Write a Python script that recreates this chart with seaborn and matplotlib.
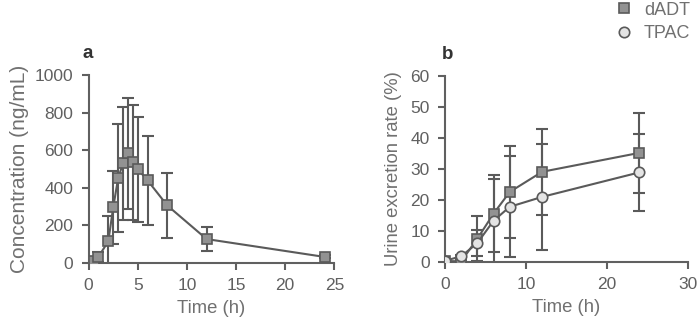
import matplotlib
matplotlib.use("Agg")
import matplotlib.pyplot as plt
import seaborn as sns
import pandas as pd
from matplotlib.lines import Line2D

# Panel a: plasma concentration of dADT
time_a = [0.5, 1, 2, 2.5, 3, 3.5, 4, 4.5, 5, 6, 8, 12, 24]
conc_a = [12, 33, 115, 296, 451, 531, 584, 535, 499, 439, 306, 127, 32]
sd_a = [10, 26, 133, 195, 286, 300, 296, 305, 280, 238, 172, 62, 8]

# Panel b: urine excretion rate
time_b = [0, 2, 4, 6, 8, 12, 24]
dadt_b = [0.3, 0.2, 7.5, 15.6, 22.6, 29.1, 35.2]
dadt_sd = [0.2, 0.3, 7.3, 12.4, 14.8, 13.8, 12.8]
tpac_b = [0.4, 1.8, 6.1, 13.3, 17.8, 21.0, 28.9]
tpac_sd = [0.2, 0.5, 4.1, 13.6, 16.3, 17.0, 12.4]

sns.set_style("ticks")
plt.rcParams['font.family'] = ['Liberation Sans', 'DejaVu Sans']
TXT = "#707070"
LINE = "#5a5a5a"
SQ = "#929292"
CI = "#e4e4e4"
plt.rcParams.update({
    'text.color': TXT, 'axes.labelcolor': TXT, 'xtick.color': "#606060",
    'ytick.color': "#606060", 'axes.edgecolor': "#606060",
})

fig = plt.figure(figsize=(6.98, 3.25), dpi=100)
ax1 = fig.add_axes([0.127, 0.191, 0.352, 0.578])
ax2 = fig.add_axes([0.6375, 0.194, 0.348, 0.572])

fs = 12.5
lfs = 13.3
cap = 4
lw = 1.5

# Panel a
df_a = pd.DataFrame({'t': time_a, 'c': conc_a})
ax1.errorbar(time_a, conc_a, yerr=sd_a, fmt='none', ecolor=LINE,
             elinewidth=lw, capsize=cap, capthick=lw, zorder=2)
sns.lineplot(data=df_a, x='t', y='c', ax=ax1, color=LINE, lw=lw,
             marker='s', markersize=6.5, markerfacecolor=SQ,
             markeredgecolor=LINE, markeredgewidth=1.2, zorder=3)
ax1.set_xlim(0, 25)
ax1.set_ylim(0, 1000)
ax1.set_xticks([0, 5, 10, 15, 20, 25])
ax1.set_yticks([0, 200, 400, 600, 800, 1000])
ax1.set_xlabel("Time (h)", fontsize=lfs, labelpad=5)
ax1.set_ylabel("Concentration (ng/mL)", fontsize=15, labelpad=4)
ax1.text(-0.025, 1.07, "a", transform=ax1.transAxes, fontsize=13.5,
         fontweight='bold', color="#333333", ha='left', va='bottom')

# Panel b
df_b = pd.DataFrame({'t': time_b * 2,
                     'v': dadt_b + tpac_b,
                     's': ['dADT'] * len(time_b) + ['TPAC'] * len(time_b)})
ax2.errorbar(time_b, dadt_b, yerr=dadt_sd, fmt='none', ecolor=LINE,
             elinewidth=lw, capsize=cap, capthick=lw, zorder=2)
ax2.errorbar(time_b, tpac_b, yerr=tpac_sd, fmt='none', ecolor=LINE,
             elinewidth=lw, capsize=cap, capthick=lw, zorder=2)
sns.lineplot(data=df_b[df_b.s == 'dADT'], x='t', y='v', ax=ax2, color=LINE,
             lw=lw, marker='s', markersize=6.8, markerfacecolor=SQ,
             markeredgecolor=LINE, markeredgewidth=1.2, zorder=3)
sns.lineplot(data=df_b[df_b.s == 'TPAC'], x='t', y='v', ax=ax2, color=LINE,
             lw=lw, marker='o', markersize=7.5, markerfacecolor=CI,
             markeredgecolor=LINE, markeredgewidth=1.2, zorder=4)
ax2.set_xlim(0, 30)
ax2.set_ylim(0, 60)
ax2.set_xticks([0, 10, 20, 30])
ax2.set_yticks([0, 10, 20, 30, 40, 50, 60])
ax2.set_xlabel("Time (h)", fontsize=lfs, labelpad=5)
ax2.set_ylabel("Urine excretion rate (%)", fontsize=lfs, labelpad=6)
ax2.text(-0.015, 1.07, "b", transform=ax2.transAxes, fontsize=13.5,
         fontweight='bold', color="#333333", ha='left', va='bottom')

for ax in (ax1, ax2):
    sns.despine(ax=ax)
    ax.tick_params(labelsize=fs, width=lw, length=5, pad=6)
    for sp in ('left', 'bottom'):
        ax.spines[sp].set_linewidth(lw)
    ax.spines['left'].set_bounds(ax.get_ylim())
    ax.spines['bottom'].set_bounds(ax.get_xlim())

handles = [
    Line2D([], [], ls='none', marker='s', markersize=7, markerfacecolor=SQ,
           markeredgecolor=LINE, markeredgewidth=1.2, label='dADT'),
    Line2D([], [], ls='none', marker='o', markersize=7.5, markerfacecolor=CI,
           markeredgecolor=LINE, markeredgewidth=1.2, label='TPAC'),
]
fig.legend(handles=handles, loc='upper right', bbox_to_anchor=(1.012, 1.045),
           frameon=False, handletextpad=0.6, labelspacing=0.35,
           handlelength=1.0, prop={'size': 13})

fig.savefig("out.png", dpi=100)
